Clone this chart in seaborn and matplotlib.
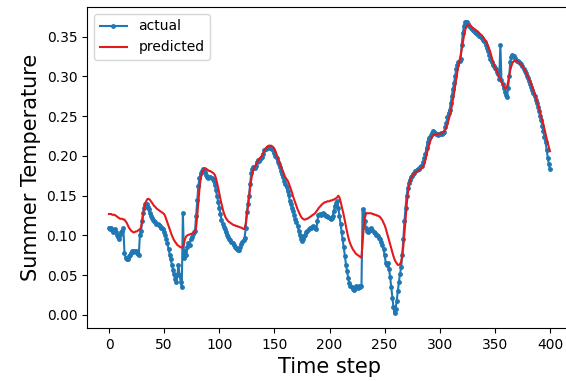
import numpy as np
import matplotlib
matplotlib.use("Agg")
import matplotlib.pyplot as plt
import seaborn as sns

actual = [
    0.110, 0.108, 0.110, 0.107, 0.105, 0.108, 0.104, 0.101, 0.098, 0.095,
    0.100, 0.104, 0.106, 0.109,
    0.078, 0.072, 0.070, 0.071, 0.074, 0.076, 0.078, 0.080, 0.079, 0.081,
    0.080, 0.078, 0.077, 0.076,
    0.101, 0.106, 0.118,
    0.128, 0.135, 0.139, 0.140, 0.136, 0.133,
    0.128, 0.124, 0.122, 0.120, 0.118, 0.117, 0.115, 0.114, 0.113, 0.112,
    0.110, 0.109, 0.108, 0.105,
    0.100, 0.096, 0.090, 0.083, 0.076, 0.070, 0.063, 0.057, 0.051, 0.045,
    0.042, 0.050, 0.063, 0.050, 0.042, 0.035,
    0.128, 0.072, 0.080, 0.076, 0.085, 0.090, 0.088, 0.095, 0.098, 0.102,
    0.104, 0.106, 0.125, 0.145, 0.162, 0.172, 0.178, 0.181, 0.183, 0.184,
    0.180, 0.176, 0.174, 0.172, 0.174, 0.173, 0.172, 0.171, 0.168, 0.163,
    0.157, 0.150, 0.142, 0.135, 0.127, 0.120, 0.115, 0.111, 0.108, 0.105,
    0.101, 0.098, 0.096, 0.094, 0.092, 0.090, 0.088, 0.086, 0.084, 0.083,
    0.082, 0.082, 0.085, 0.089, 0.092, 0.094, 0.097, 0.110, 0.130, 0.139,
    0.150, 0.165, 0.178, 0.183, 0.186, 0.185, 0.188, 0.192, 0.195, 0.194,
    0.196, 0.198, 0.199, 0.203, 0.207, 0.209, 0.210, 0.211, 0.210, 0.211,
    0.210, 0.209, 0.208, 0.204, 0.200, 0.197, 0.193, 0.190, 0.186, 0.181,
    0.177, 0.173, 0.169, 0.165, 0.161, 0.156, 0.151, 0.143, 0.139, 0.135,
    0.131, 0.126, 0.121, 0.117, 0.112, 0.106, 0.101, 0.096, 0.093, 0.096,
    0.099, 0.101, 0.104, 0.106, 0.108, 0.109, 0.110, 0.111, 0.112, 0.111,
    0.109, 0.108, 0.118, 0.126, 0.127, 0.126, 0.127, 0.128, 0.127, 0.126,
    0.125, 0.124, 0.123, 0.122, 0.121, 0.122, 0.125, 0.131, 0.137, 0.141,
    0.143, 0.135, 0.125, 0.115, 0.105, 0.095, 0.085, 0.074, 0.063, 0.055,
    0.046, 0.040, 0.037, 0.035, 0.033, 0.031, 0.034, 0.036, 0.035, 0.034,
    0.036, 0.035, 0.036, 0.133, 0.128, 0.118, 0.110, 0.106, 0.104, 0.106,
    0.108, 0.109, 0.107, 0.105, 0.103, 0.101, 0.100, 0.099, 0.097, 0.095,
    0.092, 0.088, 0.083, 0.075, 0.066, 0.063, 0.065, 0.058, 0.048, 0.035,
    0.022, 0.010, 0.002, 0.008, 0.018, 0.030, 0.042, 0.052, 0.060, 0.075,
    0.095, 0.118, 0.135, 0.150, 0.160, 0.166, 0.170, 0.173, 0.175, 0.177,
    0.179, 0.181, 0.182, 0.183, 0.184, 0.186, 0.187, 0.188, 0.192, 0.197,
    0.203, 0.210, 0.218, 0.222, 0.224, 0.226, 0.229, 0.232, 0.230, 0.229,
    0.228, 0.227, 0.228, 0.228, 0.229, 0.228, 0.229, 0.230, 0.236, 0.242,
    0.249, 0.254, 0.258, 0.266, 0.275, 0.284, 0.292, 0.300, 0.310, 0.315,
    0.318, 0.320, 0.322, 0.340, 0.355, 0.364, 0.368, 0.369, 0.368, 0.366,
    0.363, 0.361, 0.360, 0.359, 0.357, 0.356, 0.355, 0.354, 0.353, 0.351,
    0.350, 0.348, 0.346, 0.345, 0.343, 0.340, 0.336, 0.332, 0.327, 0.322,
    0.318, 0.315, 0.313, 0.311, 0.309, 0.306, 0.303, 0.297, 0.340, 0.296,
    0.290, 0.285, 0.281, 0.277, 0.274, 0.285, 0.300, 0.318, 0.325, 0.327,
    0.326, 0.323, 0.321, 0.320, 0.319, 0.318, 0.317, 0.316, 0.313, 0.310,
    0.307, 0.304, 0.301, 0.298, 0.294, 0.290, 0.287, 0.283, 0.279, 0.275,
    0.271, 0.266, 0.262, 0.256, 0.250, 0.245, 0.238, 0.231, 0.224, 0.217,
    0.208, 0.198, 0.190, 0.183,
]

predicted = [
    0.127, 0.127, 0.127, 0.126, 0.126, 0.126, 0.125, 0.124, 0.123, 0.122,
    0.121, 0.121, 0.121, 0.120,
    0.120, 0.118, 0.116, 0.113, 0.110, 0.108, 0.106, 0.105, 0.104, 0.104,
    0.105, 0.105, 0.106, 0.107, 0.108, 0.110,
    0.118, 0.128, 0.136, 0.141, 0.144, 0.146, 0.146,
    0.145, 0.143, 0.141, 0.139, 0.137, 0.136, 0.134, 0.133, 0.132, 0.131,
    0.130, 0.129, 0.128, 0.127,
    0.124, 0.120, 0.116, 0.112, 0.108, 0.104, 0.100, 0.097, 0.094, 0.092,
    0.090, 0.088, 0.087, 0.086, 0.085, 0.085,
    0.086, 0.090, 0.096, 0.099, 0.100, 0.101, 0.101, 0.102, 0.102, 0.103,
    0.103, 0.104,
    0.110, 0.125, 0.142, 0.158, 0.170, 0.177, 0.181, 0.183,
    0.184, 0.184, 0.183, 0.182, 0.181, 0.181, 0.180, 0.179, 0.178, 0.176,
    0.172, 0.166, 0.160, 0.153, 0.146, 0.140, 0.134, 0.129, 0.125, 0.122,
    0.120, 0.118, 0.117, 0.116, 0.115,
    0.114, 0.113, 0.113, 0.112, 0.112, 0.111, 0.111, 0.110, 0.110, 0.109,
    0.108, 0.109, 0.115,
    0.125, 0.136, 0.148, 0.160, 0.170, 0.178, 0.183, 0.186, 0.188, 0.191,
    0.194, 0.196, 0.197, 0.199, 0.201, 0.204,
    0.207, 0.209, 0.211, 0.212, 0.213, 0.213, 0.213, 0.212, 0.211, 0.209,
    0.206, 0.202, 0.198, 0.194, 0.190, 0.186,
    0.183, 0.180, 0.176, 0.173, 0.171, 0.169, 0.166, 0.162, 0.158, 0.154,
    0.149, 0.145, 0.141, 0.137, 0.133, 0.130, 0.127, 0.124, 0.122, 0.121,
    0.120, 0.120, 0.121, 0.121, 0.122, 0.123, 0.124, 0.125, 0.126, 0.127,
    0.128, 0.130, 0.132, 0.134, 0.136, 0.137, 0.139, 0.140, 0.141, 0.142,
    0.142, 0.143, 0.143, 0.143,
    0.144, 0.144, 0.145, 0.145, 0.146, 0.147, 0.148, 0.150, 0.148, 0.143,
    0.137, 0.131, 0.125, 0.118, 0.111,
    0.104, 0.098, 0.093, 0.089, 0.086, 0.083, 0.081, 0.079, 0.077, 0.076,
    0.075, 0.074, 0.073, 0.072,
    0.090, 0.110, 0.122, 0.127, 0.128, 0.128, 0.128, 0.128, 0.128, 0.127,
    0.127, 0.126, 0.126, 0.125, 0.125, 0.124,
    0.123, 0.121, 0.119, 0.116, 0.113, 0.109, 0.104, 0.099, 0.094, 0.089,
    0.084, 0.079, 0.074, 0.070, 0.067, 0.065, 0.063, 0.063, 0.064, 0.067,
    0.075, 0.087, 0.103,
    0.120, 0.138, 0.152, 0.162, 0.168, 0.172, 0.174, 0.176, 0.177, 0.179,
    0.180, 0.181, 0.182, 0.183, 0.184, 0.185, 0.187, 0.190, 0.195, 0.201,
    0.207, 0.212,
    0.217, 0.221, 0.224, 0.226, 0.227, 0.227, 0.227, 0.228, 0.228, 0.228,
    0.228, 0.229, 0.230, 0.231, 0.233, 0.236, 0.240, 0.245, 0.250, 0.256,
    0.263, 0.271, 0.279, 0.288, 0.297, 0.306, 0.314, 0.320, 0.327, 0.335,
    0.343, 0.351, 0.358, 0.362, 0.364,
    0.365, 0.365, 0.364, 0.362, 0.361, 0.360, 0.359, 0.358, 0.357, 0.356,
    0.354, 0.353, 0.352, 0.350, 0.348, 0.346, 0.344, 0.341, 0.338, 0.334,
    0.330, 0.325, 0.320, 0.316, 0.312, 0.309, 0.306, 0.302, 0.299, 0.297,
    0.293, 0.291, 0.288, 0.286, 0.285, 0.287,
    0.293, 0.301, 0.308, 0.313, 0.317, 0.319, 0.320, 0.320, 0.319, 0.318,
    0.317, 0.316, 0.315, 0.313,
    0.311, 0.309, 0.306, 0.303, 0.300, 0.297, 0.294, 0.291, 0.287, 0.283,
    0.279, 0.275, 0.271, 0.266, 0.261, 0.256, 0.250, 0.245, 0.240, 0.234,
    0.228, 0.222, 0.216, 0.211, 0.206,
]

x_actual = np.arange(len(actual))
x_pred = np.arange(len(predicted))

fig = plt.figure(figsize=(5.66, 3.81), dpi=100)
ax = fig.add_axes([87 / 566, 53 / 381, 485 / 566, 321 / 381])

sns.lineplot(x=x_actual, y=actual, ax=ax, color="#1f77b4", marker=".",
             markersize=7, markeredgewidth=0, linewidth=1.5, label="actual")
sns.lineplot(x=x_pred, y=predicted, ax=ax, color="#e31a1c", linewidth=1.5,
             label="predicted")

ax.set_xticks([0, 50, 100, 150, 200, 250, 300, 350, 400])
ax.set_yticks([0.00, 0.05, 0.10, 0.15, 0.20, 0.25, 0.30, 0.35])
ax.set_yticklabels([f"{v:.2f}" for v in [0.00, 0.05, 0.10, 0.15, 0.20, 0.25, 0.30, 0.35]])
ax.tick_params(labelsize=10)
ax.set_xlabel("Time step", fontsize=15)
ax.set_ylabel("Summer Temperature", fontsize=15)
ax.legend(loc="upper left", fontsize=10)

fig.savefig("out.png", dpi=100)
